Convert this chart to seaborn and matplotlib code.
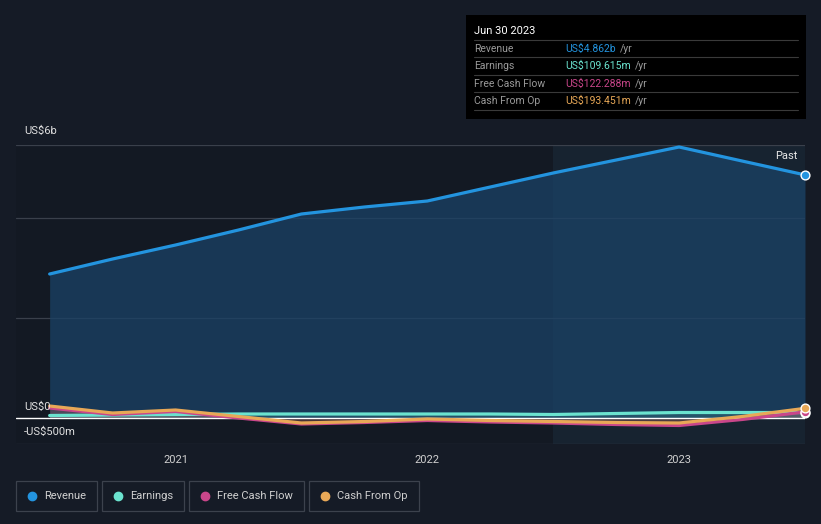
import numpy as np
import pandas as pd
import matplotlib.pyplot as plt
import seaborn as sns
from matplotlib.patches import Rectangle

# data (US$ billions), quarterly trailing twelve months
dates = [2020.5, 2020.75, 2021.0, 2021.25, 2021.5, 2021.75, 2022.0,
         2022.25, 2022.5, 2022.75, 2023.0, 2023.25, 2023.5]
revenue = [2.88, 3.18, 3.46, 3.76, 4.08, 4.22, 4.34, 4.62, 4.90, 5.16, 5.42, 5.14, 4.862]
earnings = [0.05, 0.06, 0.07, 0.08, 0.08, 0.08, 0.08, 0.08, 0.07, 0.09, 0.11, 0.11, 0.1096]
free_cash_flow = [0.20, 0.07, 0.13, 0.0, -0.12, -0.09, -0.05, -0.08, -0.10, -0.13, -0.15, -0.03, 0.1223]
cash_from_op = [0.24, 0.10, 0.16, 0.03, -0.10, -0.07, -0.02, -0.05, -0.07, -0.09, -0.10, 0.03, 0.1935]

series_names = ['Revenue', 'Earnings', 'Free Cash Flow', 'Cash From Op']
series_colors = ['#2394df', '#6be3cf', '#c9468a', '#e8a857']
tooltip_values = ['US$4.862b', 'US$109.615m', 'US$122.288m', 'US$193.451m']
year_ticks = [2021, 2022, 2023]

BG = '#151b26'

sns.set_style('dark')
plt.rcParams['font.family'] = ['Roboto', 'DejaVu Sans']

df = pd.DataFrame({'date': dates, 'Revenue': revenue, 'Earnings': earnings,
                   'Free Cash Flow': free_cash_flow, 'Cash From Op': cash_from_op})
long = df.melt(id_vars='date', var_name='series', value_name='value')

fig = plt.figure(figsize=(8.21, 5.24), dpi=100, facecolor=BG)
ax = fig.add_axes([16 / 821, 1 - 444 / 524, (805 - 16) / 821, (444 - 145) / 524])
ax.set_facecolor('#131923')

x0 = 2021 - 160 / 252.5
x1 = 2023.5
ax.set_xlim(x0, x1)
ax.set_ylim(-0.52, 5.46)

# past year shaded region
ax.axvspan(2022.5, x1, color='#1a2a3a', alpha=0.6, lw=0, zorder=0)

# grid lines
for gy in [5.46, 4.0, 2.0, -0.52]:
    ax.axhline(gy, color='#3a404b', lw=0.9, zorder=1)
ax.axhline(0, color='#ffffff', lw=1.0, zorder=4)

# revenue area
ax.fill_between(df['date'], 0, df['Revenue'], color='#1a4266', alpha=0.75, lw=0, zorder=2)
for name, col in zip(series_names[1:], series_colors[1:]):
    ax.fill_between(df['date'], 0, df[name], color=col, alpha=0.15, lw=0, zorder=3)

sns.lineplot(data=long, x='date', y='value', hue='series', hue_order=series_names,
             palette=series_colors, lw=2.3, ax=ax, legend=False, zorder=5)

# end markers
for name, col in zip(series_names, series_colors):
    ax.scatter([dates[-1]], [df[name].iloc[-1]], s=40, color=col, edgecolor='white',
               linewidth=1.0, zorder=6, clip_on=False)

for s in ax.spines.values():
    s.set_visible(False)
ax.set_xticks(year_ticks)
ax.set_xticklabels([str(y) for y in year_ticks], color='#d0d0d0', fontsize=8)
ax.tick_params(axis='x', length=3, color='#555a63', pad=5)
ax.set_yticks([])
ax.set_xlabel('')
ax.set_ylabel('')

# y labels
fig.text(24 / 821, 1 - 131 / 524, 'US$6b', color='#e0e0e0', fontsize=8, va='center')
fig.text(24 / 821, 1 - 407 / 524, 'US$0', color='#e0e0e0', fontsize=8, va='center')
fig.text(24 / 821, 1 - 432 / 524, '-US$500m', color='#e0e0e0', fontsize=8, va='center')
fig.text(797 / 821, 1 - 156 / 524, 'Past', color='#e8e8e8', fontsize=8, va='center', ha='right')

# tooltip box
fig.patches.append(Rectangle((466 / 821, 1 - 119 / 524), 340 / 821, 104 / 524,
                             transform=fig.transFigure, facecolor='#000000', edgecolor='none'))
fig.text(474 / 821, 1 - 31 / 524, 'Jun 30 2023', color='#ffffff', fontsize=8, va='center')
row_y = [49, 66, 84, 101]
renderer = fig.canvas.get_renderer()
for i, (name, col, val) in enumerate(zip(series_names, series_colors, tooltip_values)):
    ly = 1 - (row_y[i] - 9) / 524
    fig.add_artist(plt.Line2D([474 / 821, 798 / 821], [ly, ly], color='#3a3a3a', lw=0.8,
                              transform=fig.transFigure))
    fig.text(474 / 821, 1 - row_y[i] / 524, name, color='#9a9a9a', fontsize=7.5, va='center')
    t = fig.text(565 / 821, 1 - row_y[i] / 524, val, color=col, fontsize=7.5, va='center')
    w = t.get_window_extent(renderer=renderer).width
    fig.text((565 + w + 4) / 821, 1 - row_y[i] / 524, '/yr', color='#9a9a9a',
             fontsize=7.5, va='center')
fig.add_artist(plt.Line2D([474 / 821, 798 / 821], [1 - 110 / 524, 1 - 110 / 524], color='#3a3a3a',
                          lw=0.8, transform=fig.transFigure))

# legend boxes
boxes = [(16, 97), (102, 184), (189, 304), (309, 419)]
for (bx0, bx1), name, col in zip(boxes, series_names, series_colors):
    fig.patches.append(Rectangle((bx0 / 821, 1 - 511 / 524), (bx1 - bx0) / 821, 30 / 524,
                                 transform=fig.transFigure, facecolor='none',
                                 edgecolor='#3c424d', lw=0.9))
    fig.add_artist(plt.Line2D([(bx0 + 16) / 821], [1 - 496 / 524], marker='o', markersize=6,
                              color=col, transform=fig.transFigure))
    fig.text((bx0 + 28) / 821, 1 - 496 / 524, name, color='#d0d0d0', fontsize=8, va='center')

fig.savefig('out.png', dpi=100, facecolor=BG)
